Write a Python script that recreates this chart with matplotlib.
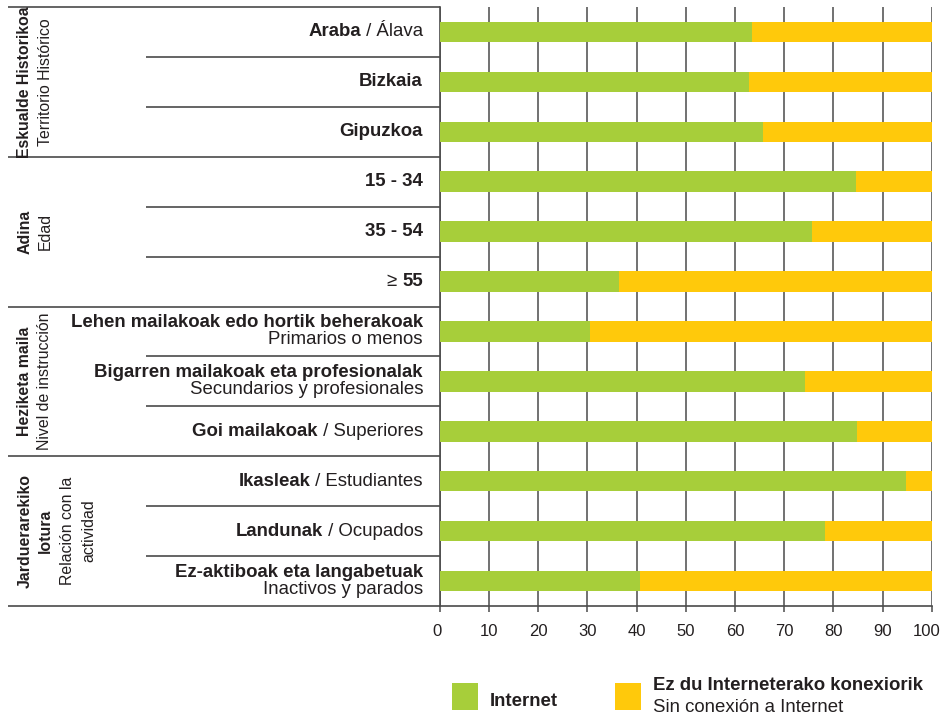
import matplotlib
matplotlib.use("Agg")
import matplotlib.pyplot as plt
from matplotlib.transforms import blended_transform_factory, IdentityTransform, ScaledTranslation
from matplotlib.patches import Rectangle

plt.rcParams['font.family'] = ['Liberation Sans', 'DejaVu Sans']

# data
row_labels = [
    [("Araba", "bold"), (" / Álava", "normal")],
    [("Bizkaia", "bold")],
    [("Gipuzkoa", "bold")],
    [("15 - 34", "bold")],
    [("35 - 54", "bold")],
    [("≥ ", "normal"), ("55", "bold")],
    [("Lehen mailakoak edo hortik beherakoak", "bold"), ("Primarios o menos", "normal")],
    [("Bigarren mailakoak eta profesionalak", "bold"), ("Secundarios y profesionales", "normal")],
    [("Goi mailakoak", "bold"), (" / Superiores", "normal")],
    [("Ikasleak", "bold"), (" / Estudiantes", "normal")],
    [("Landunak", "bold"), (" / Ocupados", "normal")],
    [("Ez-aktiboak eta langabetuak", "bold"), ("Inactivos y parados", "normal")],
]
stacked_rows = [6, 7, 11]
internet = [63.4, 62.9, 65.7, 84.6, 75.7, 36.4, 30.6, 74.3, 84.8, 94.8, 78.3, 40.7]
no_conn = [36.6, 37.1, 34.3, 15.4, 24.3, 63.6, 69.4, 25.7, 15.2, 5.2, 21.7, 59.3]
groups = [
    (["Eskualde Historikoa"], ["Territorio Histórico"], 0, 2),
    (["Adina"], ["Edad"], 3, 5),
    (["Heziketa maila"], ["Nivel de instrucción"], 6, 8),
    (["Jarduerarekiko", "lotura"], ["Relación con la", "actividad"], 9, 11),
]
ticks = [0, 10, 20, 30, 40, 50, 60, 70, 80, 90, 100]

GREEN = "#A7CE3A"
YELLOW = "#FFC90B"
TXT = "#231F20"
LINE = "#4a4a4a"
W, H = 943, 715
FS = 13.4     # row labels / legend
GFS = 11.4    # rotated group labels

fig = plt.figure(figsize=(W / 100, H / 100), dpi=100)
ax = fig.add_axes([439.7 / W, 1 - 606 / H, 492 / W, 599 / H])

n = len(internet)
ys = list(range(n))
ax.barh(ys, internet, height=0.41, color=GREEN, zorder=3)
ax.barh(ys, no_conn, left=internet, height=0.41, color=YELLOW, zorder=3)
ax.set_ylim(n - 0.5, -0.5)
ax.set_xlim(0, 100)
ax.set_xticks(ticks)
ax.set_yticks([])
ax.grid(axis='x', color=LINE, lw=1.1, zorder=1)
for s in ['top', 'right']:
    ax.spines[s].set_visible(False)
for s in ['left', 'bottom']:
    ax.spines[s].set_color(LINE)
    ax.spines[s].set_linewidth(1.2)
ax.tick_params(axis='x', length=4, width=1.1, color=LINE, pad=9,
               labelsize=12, labelcolor=TXT)
# nudge the end labels inward like the original
labs = ax.get_xticklabels()
labs[0].set_transform(labs[0].get_transform() + ScaledTranslation(-3 / 100, 0, fig.dpi_scale_trans))
labs[-1].set_transform(labs[-1].get_transform() + ScaledTranslation(-5 / 100, 0, fig.dpi_scale_trans))

trans = blended_transform_factory(IdentityTransform(), ax.transData)
renderer = fig.canvas.get_renderer()


def right_text(x, y, parts, dy=0.0):
    for txt, wt in reversed(parts):
        t = fig.text(x, y + dy, txt, transform=trans, ha='right', va='center',
                     fontsize=FS, fontweight=wt, color=TXT)
        x -= t.get_window_extent(renderer).width


for i, parts in enumerate(row_labels):
    if i in stacked_rows:
        right_text(423, i, [parts[0]], dy=-0.17)
        right_text(423, i, [parts[1]], dy=0.17)
    else:
        right_text(423, i, parts)

# separator lines on the left side
group_edges = [g[2] - 0.5 for g in groups] + [n - 0.5]
for b in range(n + 1):
    yb = b - 0.5
    x0 = 8 if yb in group_edges else 146
    ax.plot([x0, 440], [yb, yb], transform=trans, color=LINE, lw=1.2,
            clip_on=False, solid_capstyle='butt')

# group labels
for bold_lines, norm_lines, a, b in groups:
    yc = (a + b) / 2
    xs = [25, 45, 67, 89] if len(bold_lines) > 1 else [25, 45]
    lines = [(t, 'bold') for t in bold_lines] + [(t, 'normal') for t in norm_lines]
    for xp, (t, wt) in zip(xs, lines):
        fig.text(xp, yc, t, transform=trans, rotation=90, ha='center',
                 va='center', rotation_mode='anchor', fontsize=GFS,
                 fontweight=wt, color=TXT)

# legend
fig.patches.append(Rectangle((452, H - 710), 26, 27, transform=IdentityTransform(),
                             facecolor=GREEN, edgecolor='none'))
fig.patches.append(Rectangle((615, H - 710), 26, 27, transform=IdentityTransform(),
                             facecolor=YELLOW, edgecolor='none'))
fig.text(490, H - 702, "Internet", transform=IdentityTransform(), ha='left',
         va='center', fontsize=FS, fontweight='bold', color=TXT)
fig.text(653, H - 685, "Ez du Interneterako konexiorik", transform=IdentityTransform(),
         ha='left', va='center', fontsize=FS, fontweight='bold', color=TXT)
fig.text(653, H - 707, "Sin conexión a Internet", transform=IdentityTransform(),
         ha='left', va='center', fontsize=FS, color=TXT)

fig.savefig("out.png", dpi=100)
